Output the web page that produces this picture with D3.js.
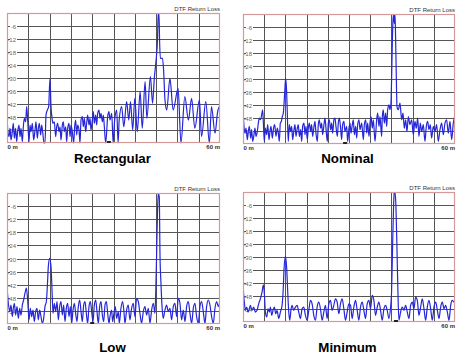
<!DOCTYPE html>
<html><head><meta charset="utf-8">
<script src="https://cdn.jsdelivr.net/npm/d3@7"></script>
<style>body{margin:0;background:#fff}svg{display:block}</style>
</head><body>
<svg id="c" width="464" height="358"></svg>
<script>
// ---- data (distance in m, return loss in dB) ----
const titles = ["Rectangular", "Nominal", "Low", "Minimum"];
const chartTitle = "DTF Return Loss";
const xStartLabel = "0 m", xEndLabel = "60 m";
const yTickValues = [-6, -12, -18, -24, -30, -36, -42, -48, -54];
const markerDist = [28.7, 28.9, 24.0, 43.3];

const rectangular = [[0,-43.2],[0.19,-54],[0.56,-57.1],[0.85,-53.2],[1.13,-58.6],[1.5,-54.8],[1.78,-50.9],[2.07,-57.8],[2.44,-53.2],[2.72,-59.4],[3.0,-54.8],[3.38,-51.7],[3.66,-57.1],[3.94,-53.2],[4.32,-59.4],[4.6,-52.5],[4.88,-48.6],[5.26,-50.2],[5.54,-43.2],[5.82,-49.4],[6.2,-59.4],[6.48,-51.7],[6.76,-54.8],[7.14,-50.9],[7.51,-58.6],[7.89,-54],[8.17,-50.2],[8.54,-57.8],[8.83,-53.2],[9.11,-50.9],[9.48,-56.3],[9.77,-51.7],[10.05,-54.8],[10.42,-60],[10.7,-60],[10.99,-47.1],[11.36,-44.8],[11.74,-43.2],[12.1,-30.2],[12.4,-43.2],[12.68,-48.6],[12.96,-50.9],[13.33,-50.2],[13.71,-57.1],[13.99,-52.5],[14.27,-50.9],[14.65,-54.8],[14.93,-52.5],[15.21,-58.6],[15.59,-51.7],[15.87,-50.2],[16.15,-54.8],[16.53,-52.5],[16.81,-59.4],[17.09,-53.2],[17.47,-50.9],[17.75,-57.1],[18.03,-51.7],[18.4,-54.8],[18.78,-60],[19.06,-52.5],[19.34,-49.4],[19.63,-56.3],[19.91,-51.7],[20.28,-54],[20.56,-60],[20.85,-49.4],[21.22,-47.8],[21.5,-52.5],[21.79,-48.6],[22.16,-54.8],[22.44,-50.9],[22.72,-47.1],[23.1,-51.7],[23.38,-48.6],[23.66,-54],[24.04,-49.4],[24.32,-45.5],[24.6,-50.9],[24.98,-47.1],[25.26,-51.7],[25.54,-46.3],[25.92,-44.8],[26.2,-48.6],[26.48,-46.3],[26.86,-50.2],[27.14,-47.1],[27.42,-52.5],[27.8,-60],[28.36,-47.8],[28.73,-45.5],[29.0,-49.4],[29.5,-46.3],[29.9,-60],[30.3,-50],[30.9,-44.8],[31.3,-60],[31.6,-49.4],[32.3,-43.2],[32.9,-52.5],[33.7,-40.9],[34.3,-49.4],[34.8,-40.9],[35.4,-54],[36.0,-39.4],[36.7,-54.8],[37.5,-36.3],[38.1,-53.2],[38.9,-31.7],[39.4,-48.6],[40.4,-29.4],[41.0,-41.7],[41.5,-30],[42.0,-21.7],[42.4,-12],[42.6,0],[42.8,0],[43.0,-14],[43.2,-20.9],[43.8,-20.9],[44.1,-26],[44.5,-40.1],[45.0,-44.8],[45.9,-30.2],[46.8,-44.8],[48.2,-34.8],[49.0,-60],[50.1,-38.6],[51.1,-49.4],[52.0,-39.4],[52.9,-53.2],[54.2,-40.1],[54.8,-57],[56.0,-40.9],[57.0,-60],[57.6,-43.2],[58.6,-55.5],[59.3,-46],[59.8,-43.2],[60,-45]];

const nominal = [[0,-44.2],[0.28,-51.9],[0.57,-55.0],[0.85,-52.7],[1.23,-58.0],[1.51,-54.2],[1.79,-51.9],[2.17,-57.3],[2.45,-53.4],[2.73,-58.8],[3.11,-55.7],[3.39,-52.7],[3.68,-56.5],[4.05,-54.2],[4.34,-50.4],[4.62,-48.1],[5.0,-48.8],[5.28,-46.5],[5.56,-44.2],[5.75,-49.6],[6.03,-58.8],[6.32,-52.7],[6.69,-55.7],[6.98,-51.1],[7.36,-58.0],[7.64,-54.2],[7.92,-51.9],[8.3,-57.3],[8.58,-53.4],[8.96,-51.1],[9.34,-56.5],[9.71,-52.7],[10.0,-55.0],[10.28,-58.8],[10.56,-50.4],[10.84,-49.6],[11.13,-47.3],[11.41,-45.8],[11.79,-36.6],[12.07,-29.6],[12.35,-35.8],[12.54,-45.8],[12.82,-58.8],[13.11,-51.1],[13.48,-54.2],[13.77,-51.9],[14.05,-58.0],[14.43,-53.4],[14.71,-51.1],[14.99,-56.5],[15.37,-52.7],[15.65,-51.1],[15.94,-56.5],[16.31,-53.4],[16.6,-58.8],[16.88,-51.9],[17.26,-50.4],[17.54,-55.7],[17.82,-51.9],[18.2,-58.0],[18.48,-52.7],[18.77,-50.4],[19.14,-54.2],[19.42,-51.1],[19.71,-56.5],[20.09,-51.9],[20.37,-49.6],[20.65,-55.0],[21.03,-58.8],[21.31,-51.1],[21.59,-48.8],[21.97,-52.7],[22.25,-50.4],[22.54,-55.7],[22.91,-51.1],[23.2,-48.1],[23.48,-52.7],[23.86,-58.8],[24.14,-50.4],[24.42,-48.8],[24.8,-53.4],[25.08,-50.4],[25.37,-55.0],[25.74,-48.8],[26.03,-48.1],[26.31,-51.9],[26.69,-56.5],[26.97,-50.4],[27.25,-48.1],[27.63,-52.7],[27.91,-58.0],[28.2,-51.1],[28.57,-49.6],[28.85,-54.2],[29.34,-51.9],[29.62,-58.8],[30.0,-52.7],[30.28,-50.3],[30.57,-55.0],[30.94,-51.1],[31.23,-48.8],[31.51,-55.7],[31.89,-51.9],[32.17,-57.3],[32.45,-51.1],[32.83,-48.8],[33.11,-53.4],[33.59,-50.4],[34.06,-58.0],[34.34,-51.1],[34.72,-48.8],[35.0,-55.0],[35.28,-50.4],[35.66,-56.5],[35.94,-50.4],[36.23,-47.3],[36.6,-52.7],[36.89,-48.8],[37.36,-58.8],[37.83,-48.8],[38.11,-45.7],[38.49,-51.9],[38.77,-47.3],[39.24,-56.5],[39.43,-47.3],[39.71,-44.2],[40.0,-50.4],[40.37,-45.7],[40.66,-51.9],[40.94,-44.2],[41.32,-41.9],[41.6,-44.2],[41.88,-41.1],[42.07,-28.9],[42.26,-13.5],[42.45,-2.8],[42.64,0],[42.83,-4.3],[43.02,0],[43.2,-12.0],[43.39,-28.9],[43.58,-42.7],[43.96,-44.2],[44.43,-41.1],[44.9,-48.8],[45.28,-45.7],[45.66,-52.7],[46.03,-48.8],[46.41,-54.2],[46.79,-47.3],[47.26,-51.1],[47.73,-48.8],[48.2,-55.7],[48.67,-49.6],[49.05,-52.7],[49.43,-48.0],[49.8,-56.5],[50.18,-50.4],[50.56,-54.2],[51.03,-51.1],[51.5,-58.8],[51.88,-51.9],[52.26,-49.6],[52.63,-53.4],[53.01,-51.1],[53.39,-57.3],[53.86,-51.9],[54.33,-54.2],[54.8,-51.1],[55.27,-58.8],[55.75,-53.4],[56.22,-50.4],[56.69,-55.7],[57.16,-50.4],[57.63,-48.8],[58.1,-55.0],[58.58,-49.6],[59.05,-58.0],[59.52,-50.4],[59.8,-48.0],[60,-47]];

const low = [[0,-42.9],[0.38,-50.5],[0.75,-54.3],[1.13,-51.3],[1.5,-56.6],[1.78,-52.8],[2.07,-50.5],[2.44,-55.9],[2.82,-52.0],[3.19,-57.4],[3.57,-52.8],[3.94,-55.9],[4.32,-51.3],[4.69,-49.0],[5.07,-45.9],[5.45,-43.6],[5.82,-49.0],[6.2,-58.1],[6.57,-52.8],[6.95,-56.6],[7.32,-53.6],[7.7,-58.9],[8.07,-54.3],[8.45,-52.8],[8.83,-58.1],[9.2,-53.6],[9.58,-56.6],[9.95,-59.7],[10.33,-57.4],[10.7,-52.0],[11.08,-49.7],[11.36,-42.9],[11.64,-33.7],[12.02,-29.9],[12.4,-33.7],[12.68,-44.4],[12.96,-55.1],[13.33,-50.5],[13.71,-54.3],[14.09,-49.7],[14.46,-58.1],[14.84,-52.0],[15.21,-49.7],[15.59,-55.9],[15.96,-51.3],[16.34,-58.9],[16.71,-52.8],[17.09,-50.5],[17.47,-56.6],[17.84,-52.0],[18.22,-59.7],[18.59,-53.6],[18.97,-50.5],[19.34,-55.1],[19.72,-58.9],[20.09,-52.0],[20.47,-49.0],[20.85,-54.3],[21.22,-58.9],[21.6,-51.3],[21.97,-49.7],[22.35,-55.1],[22.72,-59.7],[23.1,-52.0],[23.47,-49.7],[23.85,-54.3],[24.23,-58.9],[24.6,-51.3],[24.98,-49.0],[25.35,-54.3],[25.73,-59.7],[26.1,-52.0],[26.48,-49.7],[26.86,-55.9],[27.23,-58.9],[27.61,-51.3],[27.98,-49.7],[28.36,-55.1],[28.73,-59.7],[29.0,-56.6],[29.47,-53.6],[29.75,-58.9],[30.13,-55.1],[30.5,-52.0],[30.88,-57.4],[31.35,-54.3],[31.63,-59.7],[32.1,-52.8],[32.57,-49.7],[32.94,-54.3],[33.23,-59.7],[33.7,-53.6],[34.16,-51.3],[34.63,-58.1],[35.1,-52.8],[35.57,-50.5],[36.04,-56.6],[36.51,-48.2],[36.98,-49.7],[37.45,-55.1],[37.92,-59.7],[38.39,-54.3],[38.86,-52.0],[39.33,-55.9],[39.8,-52.8],[40.27,-59.7],[40.74,-53.6],[41.21,-50.5],[41.68,-55.1],[41.96,-41.4],[42.15,-27.6],[42.4,-8],[42.62,0],[42.9,-2],[43.09,-27.6],[43.37,-41.4],[43.74,-53.6],[44.02,-57.4],[44.49,-53.6],[44.96,-51.3],[45.43,-54.3],[45.9,-52.8],[46.37,-58.1],[46.84,-52.0],[47.31,-50.5],[47.78,-56.6],[48.25,-48.2],[48.72,-50.5],[49.19,-58.1],[49.66,-53.6],[50.13,-58.9],[50.6,-52.0],[51.07,-49.7],[51.54,-55.1],[52.01,-59.7],[52.48,-52.8],[52.94,-50.5],[53.41,-56.6],[53.88,-59.7],[54.35,-52.0],[54.82,-49.7],[55.29,-54.3],[55.76,-59.7],[56.23,-52.0],[56.7,-49.0],[57.17,-51.3],[57.64,-56.6],[58.11,-59.7],[58.58,-52.8],[59.05,-49.7],[59.52,-52.0],[60.0,-49.0]];

const minimum = [[0,-43.1],[0.38,-50.8],[0.66,-54.6],[1.04,-53.1],[1.42,-55.4],[1.8,-53.9],[2.08,-52.3],[2.55,-54.6],[3.02,-53.1],[3.5,-55.4],[3.97,-54.6],[4.44,-51.6],[4.91,-49.3],[5.39,-46.2],[5.76,-42.8],[6.05,-47.0],[6.33,-55.4],[6.71,-57.7],[7.09,-53.9],[7.47,-55.4],[7.75,-53.1],[8.13,-56.9],[8.5,-54.6],[8.88,-53.1],[9.26,-56.2],[9.64,-54.6],[10.11,-58.4],[10.58,-55.4],[11.06,-52.3],[11.34,-46.2],[11.62,-35.5],[12.0,-29.7],[12.38,-35.5],[12.66,-46.2],[12.95,-55.4],[13.23,-59.2],[13.61,-53.9],[13.89,-52.3],[14.36,-54.6],[14.84,-53.1],[15.31,-52.3],[15.78,-55.4],[16.25,-58.4],[16.73,-53.9],[17.2,-53.1],[17.67,-56.9],[18.14,-59.2],[18.62,-54.6],[19.09,-50.0],[19.56,-51.6],[20.03,-56.9],[20.51,-59.2],[20.98,-53.1],[21.45,-50.8],[21.92,-53.9],[22.4,-59.2],[22.87,-55.4],[23.34,-52.3],[23.81,-58.4],[24.29,-51.6],[24.76,-50.0],[25.23,-54.6],[25.7,-52.3],[26.18,-49.3],[26.65,-50.8],[27.12,-56.2],[27.59,-51.6],[28.07,-49.3],[28.54,-53.9],[29.01,-59.2],[29.48,-55.4],[29.96,-51.6],[30.43,-52.3],[30.9,-58.4],[31.37,-53.1],[31.85,-50.0],[32.32,-54.6],[32.79,-59.2],[33.26,-53.1],[33.74,-50.8],[34.21,-54.6],[34.68,-58.4],[35.15,-51.6],[35.63,-50.0],[36.1,-53.9],[36.57,-47.7],[37.04,-50.0],[37.52,-56.9],[37.99,-53.1],[38.46,-50.8],[38.93,-54.6],[39.41,-59.2],[39.88,-53.9],[40.35,-52.3],[40.82,-54.6],[41.3,-58.4],[41.77,-53.1],[42.05,-46.2],[42.34,-24.8],[42.62,-6.4],[42.81,-0.3],[43.0,0],[43.28,-6.4],[43.56,-24.8],[43.85,-46.2],[44.13,-59.2],[44.6,-55.4],[45.08,-53.1],[45.55,-54.6],[46.02,-52.3],[46.49,-55.4],[46.97,-58.4],[47.44,-52.3],[47.91,-50.8],[48.38,-53.9],[48.86,-48.5],[49.33,-50.0],[49.8,-56.9],[50.27,-53.1],[50.75,-49.3],[51.22,-53.9],[51.69,-59.2],[52.16,-53.1],[52.64,-50.0],[53.11,-53.9],[53.58,-59.2],[54.05,-53.1],[54.53,-50.8],[55.0,-54.6],[55.47,-58.4],[55.94,-53.1],[56.42,-50.8],[56.89,-53.9],[57.36,-52.3],[57.83,-55.4],[58.31,-59.2],[58.78,-52.3],[59.25,-50.0],[59.72,-50.8],[60.0,-49.3]];

const series = [rectangular, nominal, low, minimum];

// ---- layout ----
const boxes = [
  {x0: 7,   y0: 13,  x1: 220, y1: 143, tx: 112.5, ty: 162.7},
  {x0: 243, y0: 14,  x1: 455, y1: 144, tx: 347.5, ty: 162.7},
  {x0: 7,   y0: 193, x1: 220, y1: 324, tx: 112.5, ty: 351.7},
  {x0: 243, y0: 192, x1: 455, y1: 322, tx: 347.5, ty: 351.7}
];

const svg = d3.select("#c");
const font = "'Liberation Sans', Arial, sans-serif";

boxes.forEach((b, i) => {
  const x = d3.scaleLinear().domain([0, 60]).range([b.x0, b.x1]);
  const y = d3.scaleLinear().domain([-60, 0]).range([b.y1, b.y0]);
  const g = svg.append("g");
  const px = v => Math.round(v) + 0.5;

  // grid
  g.selectAll("line.v").data(d3.range(6, 60, 6)).join("line")
    .attr("x1", d => px(x(d))).attr("x2", d => px(x(d)))
    .attr("y1", b.y0).attr("y2", b.y1)
    .attr("stroke", "#555").attr("stroke-width", 1);
  g.selectAll("line.h").data(d3.range(-54, 0, 6)).join("line")
    .attr("y1", d => px(y(d))).attr("y2", d => px(y(d)))
    .attr("x1", b.x0).attr("x2", b.x1)
    .attr("stroke", "#555").attr("stroke-width", 1);

  // y tick labels inside plot
  const lab = g.selectAll("g.lab").data(yTickValues).join("g")
    .attr("transform", d => `translate(${b.x0 + 9},${px(y(d))})`);
  lab.append("rect").attr("x", -6).attr("y", -3).attr("width", 7).attr("height", 6).attr("fill", "#fff");
  lab.append("text").attr("x", 0).attr("y", 2.2).attr("text-anchor", "end")
    .attr("font-family", font).attr("font-size", 6).attr("fill", "#666")
    .text(d => d);

  // clip + data
  const cid = "clip" + i;
  svg.append("clipPath").attr("id", cid).append("rect")
    .attr("x", b.x0).attr("y", b.y0).attr("width", b.x1 - b.x0).attr("height", b.y1 - b.y0 + 1);
  const line = d3.line().x(d => x(d[0])).y(d => y(d[1])).curve(d3.curveMonotoneX);
  g.append("path").datum(series[i]).attr("clip-path", `url(#${cid})`)
    .attr("d", line).attr("fill", "none").attr("stroke", "#2626d9")
    .attr("stroke-width", 1.2).attr("stroke-linejoin", "round");

  // border
  g.append("rect").attr("x", b.x0 + 0.5).attr("y", b.y0 + 0.5)
    .attr("width", b.x1 - b.x0 - 1).attr("height", b.y1 - b.y0 - 1)
    .attr("fill", "none").attr("stroke", "#d49a9a").attr("stroke-width", 1.2);

  // marker
  g.append("rect").attr("x", x(markerDist[i]) - 2).attr("y", b.y1 - 2)
    .attr("width", 4).attr("height", 2).attr("fill", "#222");

  // texts
  g.append("text").attr("x", b.x1).attr("y", b.y0 - 2).attr("text-anchor", "end")
    .attr("font-family", font).attr("font-size", 6).attr("fill", "#333").text(chartTitle);
  g.append("text").attr("x", b.x0 + 0.5).attr("y", b.y1 + 5.8)
    .attr("font-family", font).attr("font-size", 6).attr("font-weight", "bold").attr("fill", "#333").text(xStartLabel);
  g.append("text").attr("x", b.x1).attr("y", b.y1 + 5.8).attr("text-anchor", "end")
    .attr("font-family", font).attr("font-size", 6).attr("font-weight", "bold").attr("fill", "#333").text(xEndLabel);
  g.append("text").attr("x", b.tx).attr("y", b.ty).attr("text-anchor", "middle")
    .attr("font-family", font).attr("font-size", 13.3).attr("font-weight", "bold").attr("fill", "#000")
    .text(titles[i]);
});
</script>
</body></html>
